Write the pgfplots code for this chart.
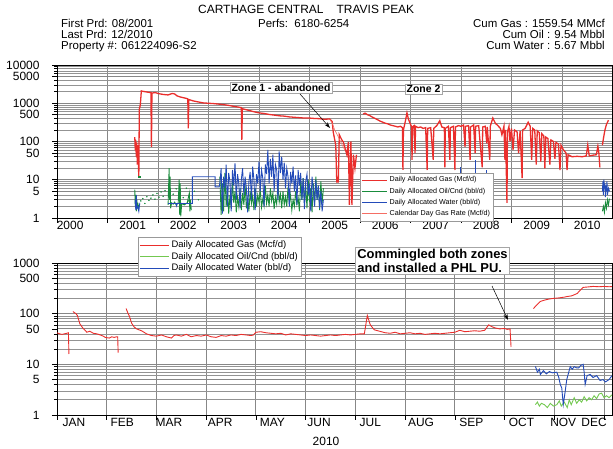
\documentclass[border=0pt]{standalone}
\usepackage{fontspec}
\setmainfont{Liberation Sans}
\usepackage{pgfplots}
\pgfplotsset{compat=1.18}
\usetikzlibrary{arrows.meta}
\definecolor{gasred}{RGB}{234,46,44}
\definecolor{gasredlt}{RGB}{245,110,100}
\definecolor{oilgreen}{RGB}{25,140,60}
\definecolor{oilgreenlt}{RGB}{115,200,80}
\definecolor{wblue}{RGB}{35,75,185}
\definecolor{gridgray}{RGB}{135,135,135}
\begin{document}
\begin{tikzpicture}
\useasboundingbox (0,0) rectangle (613bp,449bp);

% ---------------- header ----------------
\node[anchor=base west, inner sep=0pt, font=\fontsize{12}{13}\selectfont] at (198bp,435.5bp) {CARTHAGE CENTRAL\hspace{1.1em}TRAVIS PEAK};
\node[anchor=base west, inner sep=0pt, font=\fontsize{11.5}{12}\selectfont] at (61bp,421.5bp) {First Prd: 08/2001};
\node[anchor=base west, inner sep=0pt, font=\fontsize{11.5}{12}\selectfont] at (61bp,410.5bp) {Last Prd: 12/2010};
\node[anchor=base west, inner sep=0pt, font=\fontsize{11.5}{12}\selectfont] at (61bp,399.5bp) {Property \#: 061224096-S2};
\node[anchor=base west, inner sep=0pt, font=\fontsize{11.5}{12}\selectfont] at (258bp,421.5bp) {Perfs:\ \ 6180-6254};
\node[anchor=base east, inner sep=0pt, font=\fontsize{11.5}{12}\selectfont] at (605bp,421.5bp) {Cum Gas : 1559.54 MMcf};
\node[anchor=base east, inner sep=0pt, font=\fontsize{11.5}{12}\selectfont] at (605bp,410.5bp) {Cum Oil : 9.54 Mbbl};
\node[anchor=base east, inner sep=0pt, font=\fontsize{11.5}{12}\selectfont] at (605bp,399.5bp) {Cum Water : 5.67 Mbbl};

% ---------------- top panel ----------------
\begin{axis}[at={(57bp,231bp)}, anchor=south west,
  scale only axis, width=555bp, height=153bp, ymode=log,
  axis line style={black, line width=0.9pt},
  xmajorgrids=true, ymajorgrids=true, yminorgrids=true,
  major grid style={gridgray, line width=0.9pt},
  minor grid style={gridgray!90, line width=0.6pt},
  tick align=outside, xtick pos=bottom, ytick pos=left,
  major tick length=5bp, minor tick length=3bp,
  tick style={black, line width=0.6pt},
  ticklabel style={font=\fontsize{12}{13}\selectfont},
  yticklabel style={xshift=-9bp},
  unbounded coords=jump,
  xmin=2000, xmax=2010.99, ymin=1, ymax=10000,
  xtick={2000,...,2010},
  xticklabels={,,,,,,,,,,},
  extra x ticks={2000.26,2001.5,2002.5,2003.5,2004.5,2005.5,2006.5,2007.5,2008.5,2009.5,2010.5},
  extra x tick labels={2000,2001,2002,2003,2004,2005,2006,2007,2008,2009,2010},
  extra x tick style={grid=none, major tick length=0pt},
  ytick={1,5,10,50,100,500,1000,5000,10000},
  yticklabels={1,5,10,50,100,500,1000,5000,10000},
  minor ytick={2,3,4,6,7,8,9,20,30,40,60,70,80,90,200,300,400,600,700,800,900,2000,3000,4000,6000,7000,8000,9000},
  legend image code/.code={\draw[#1] (0bp,0bp) -- (25bp,0bp);},
  legend cell align=left,
  legend style={at={(0.546,0.294)}, anchor=north west, draw=gray!80, fill=white,
    font=\fontsize{7.2}{8}\selectfont, inner sep=1.5pt, row sep=0.6pt},
]
% oil (zone 1)
\addplot[oilgreen, only marks, mark=*, mark size=0.5bp, forget plot] coordinates {
(2001.66,2.8)(2001.70,3.2)(2001.74,2.4)(2001.78,3.6)(2001.82,2.9)(2001.86,3.3)(2001.90,4)(2001.94,3.1)(2001.98,4.4)(2002.02,3.5)(2002.06,4.8)(2002.10,3.7)(2002.14,5.2)(2002.30,4.2)(2002.36,5.8)(2002.50,3.4)(2002.56,6)(2002.60,2.8)(2002.72,5)(2002.80,3)};
\addplot[oilgreen, line width=0.9pt, forget plot] coordinates {
(2001.54,5.5)(2001.55,2)(2001.56,4)(2001.57,1.5)(2001.58,3)(2001.59,1.8)(2001.60,2.5)(2001.61,1.6)(2001.62,2.2)};
\addplot[oilgreen, only marks, mark=square*, mark size=0.9bp, forget plot] coordinates {(2001.62,12)};
\addplot[oilgreen, line width=0.9pt, forget plot] coordinates {
(2002.20,2.2)(2002.22,20)(2002.23,3)(2002.24,12)(2002.25,1.8)(2002.27,2.5)(2002.30,2.3)(2002.33,2.6)(2002.36,2.2)(2002.40,2.5)(2002.42,10)(2002.43,1.2)(2002.44,8)(2002.45,1.1)(2002.47,2.4)(2002.52,2.2)(2002.58,2.5)(2002.62,4.5)(2002.63,1.5)(2002.64,3)(2002.66,1.6)};
\addplot[oilgreen, line width=0.9pt, forget plot] coordinates {
(2003.225,12)(2003.250,1.2)(2003.275,8)(2003.300,1.5)(2003.325,15)(2003.350,2)(2003.375,6)(2003.400,1.3)(2003.425,4)(2003.450,1.8)
(2003.475,9)(2003.500,2.5)(2003.525,5)(2003.550,1.4)(2003.575,3.5)(2003.600,2)(2003.625,6)(2003.650,1.6)(2003.675,4.5)(2003.700,2.2)
(2003.725,7)(2003.750,1.8)(2003.775,3.2)(2003.800,1.5)(2003.825,5)(2003.850,2.4)(2003.875,3.8)(2003.900,1.6)(2003.925,6)(2003.950,2)
(2003.975,4)(2004.000,2.6)(2004.025,5.5)(2004.050,1.9)(2004.075,3.2)(2004.100,2.1)(2004.125,7)(2004.150,2.4)(2004.175,4)(2004.200,2)
(2004.225,6)(2004.250,2.8)(2004.275,4.5)(2004.300,1.7)(2004.325,3.5)(2004.350,2.3)(2004.375,8)(2004.400,2.6)(2004.425,4.2)(2004.450,1.8)
(2004.475,5)(2004.500,2.2)(2004.525,3.6)(2004.550,2)(2004.575,6.5)(2004.600,2.5)(2004.625,4)(2004.650,1.6)(2004.675,3)(2004.700,2)
(2004.725,5)(2004.750,2.3)(2004.775,3.4)(2004.800,1.5)(2004.825,9)(2004.850,3)(2004.875,11)(2004.900,2.5)(2004.925,7)(2004.950,1.8)
(2004.975,10)(2005.000,2.6)(2005.025,6)(2005.050,1.4)(2005.075,8)(2005.100,2.2)(2005.125,12)(2005.150,3)(2005.175,7)(2005.200,1.6)
(2005.225,9)(2005.250,2.4)(2005.275,6)};
\addplot[oilgreen, line width=0.9pt, forget plot] coordinates {
(2010.80,1.5)(2010.82,2)(2010.84,1.4)(2010.86,2.5)(2010.88,1.8)(2010.90,3)(2010.92,2.2)(2010.94,3.2)};
% water
\addplot[wblue, line width=0.9pt, forget plot] coordinates {
(2001.55,3)(2001.56,1.6)(2001.57,4)(2001.58,1.8)(2001.60,2)(2001.62,1.5)(2001.64,2.5)};
\addplot[wblue, line width=0.9pt, forget plot] coordinates {
(2002.20,2.4)(2002.36,2.4)(2002.37,2.1)(2002.38,2.4)(2002.68,2.4)(2002.68,12)(2003.13,12)(2003.13,6.5)(2003.21,6.5)
(2003.225,8)(2003.250,20)(2003.275,1.3)(2003.300,12)(2003.325,6)(2003.350,25)(2003.375,2)(2003.400,15)(2003.425,9)(2003.450,1.5)
(2003.475,18)(2003.500,7)(2003.525,27)(2003.550,3)(2003.575,14)(2003.600,8)(2003.625,1.8)(2003.650,10)(2003.675,20)(2003.700,4)
(2003.725,12)(2003.750,6)(2003.775,1.4)(2003.800,9)(2003.825,16)(2003.850,3)(2003.875,22)(2003.900,10)(2003.925,1.6)(2003.950,14)
(2003.975,8)(2004.000,30)(2004.025,5)(2004.050,18)(2004.075,11)(2004.100,2)(2004.125,25)(2004.150,14)(2004.175,60)(2004.200,8)
(2004.225,35)(2004.250,12)(2004.275,45)(2004.300,5)(2004.325,25)(2004.350,18)(2004.375,3)(2004.400,55)(2004.425,15)(2004.450,40)
(2004.475,10)(2004.500,28)(2004.525,6)(2004.550,20)(2004.575,12)(2004.600,2)(2004.625,16)(2004.650,8)(2004.675,22)(2004.700,5)
(2004.725,13)(2004.750,2.2)(2004.775,18)(2004.800,7)(2004.825,15)(2004.850,3)(2004.875,11)(2004.900,1.7)(2004.925,9)(2004.950,14)
(2004.975,4)(2005.000,8)(2005.025,1.5)(2005.050,12)(2005.075,6)(2005.100,2)(2005.125,10)(2005.150,3)(2005.175,7)(2005.200,1.8)
(2005.225,5)(2005.250,1.5)(2005.275,3)};
\addplot[wblue, line width=1pt, forget plot] coordinates {
(2007.98,0.8)(2007.98,21)(2007.98,nan)(2008.03,0.8)(2008.03,15)(2008.03,nan)(2008.28,0.8)(2008.28,33)(2008.28,nan)(2008.50,0.8)(2008.50,18)};
\addplot[wblue, line width=0.9pt, forget plot] coordinates {
(2010.80,5)(2010.81,9)(2010.82,4)(2010.83,10)(2010.84,6)(2010.85,8)(2010.86,3.5)(2010.87,7)(2010.88,5)(2010.89,9)(2010.90,4)(2010.92,6)(2010.94,5)};
% gas zone 1
\addplot[gasred, line width=1.3pt, forget plot] coordinates {
(2001.54,130)(2001.55,60)(2001.56,110)(2001.57,40)(2001.58,95)(2001.59,25)(2001.60,80)(2001.61,30)(2001.62,12)(2001.63,700)(2001.65,900)(2001.67,2100)
(2001.70,2050)(2001.75,2000)(2001.80,1950)(2001.86,1900)(2001.87,72)(2001.88,1850)(2001.95,1900)(2002.00,1800)(2002.10,1700)(2002.20,1650)
(2002.28,1800)(2002.33,1750)(2002.38,1550)(2002.45,1450)(2002.55,1350)(2002.59,1300)(2002.60,220)(2002.61,1250)(2002.70,1150)(2002.80,1080)
(2002.90,1020)(2003.00,1000)(2003.10,980)(2003.20,950)(2003.30,920)(2003.40,880)(2003.50,830)(2003.60,790)(2003.65,770)(2003.66,110)
(2003.67,720)(2003.80,650)(2003.90,600)(2004.00,560)(2004.10,540)(2004.20,510)(2004.30,490)(2004.40,470)(2004.50,460)(2004.60,440)
(2004.70,430)(2004.80,420)(2004.90,410)(2005.00,410)(2005.10,400)(2005.20,395)(2005.30,380)(2005.40,390)(2005.45,330)
(2005.47,177)(2005.52,80)(2005.54,8.8)(2005.57,8.8)(2005.59,150)(2005.64,110)(2005.67,97)(2005.74,45)(2005.77,97)(2005.79,2.2)
(2005.82,100)(2005.84,2.2)(2005.87,45)(2005.90,20)(2005.93,45)};
% gas zone 2
\addplot[gasred, line width=1.3pt, forget plot] coordinates {
(2006.06,520)(2006.10,550)(2006.15,500)(2006.20,470)(2006.25,430)(2006.30,400)(2006.35,370)(2006.40,340)(2006.45,320)(2006.50,300)
(2006.55,290)(2006.60,270)(2006.65,260)(2006.70,250)(2006.75,240)(2006.80,250)(2006.84,230)(2006.85,18)(2006.86,200)(2006.90,350)
(2006.93,560)(2006.96,380)(2007.00,280)(2007.02,250)(2007.03,33)(2007.04,240)(2007.07,260)(2007.09,50)(2007.10,250)(2007.15,230)
(2007.20,240)(2007.25,220)(2007.30,230)(2007.33,18)(2007.34,220)(2007.40,230)(2007.45,33)(2007.46,220)(2007.52,260)(2007.58,350)
(2007.62,240)(2007.67,230)(2007.68,21)(2007.69,220)(2007.75,250)(2007.78,33)(2007.79,230)(2007.85,250)(2007.88,18)(2007.89,240)
(2007.95,260)(2008.00,250)(2008.05,270)(2008.08,72)(2008.09,250)(2008.15,260)(2008.18,33)(2008.19,240)(2008.25,270)(2008.28,50)
(2008.29,250)(2008.35,260)(2008.42,21)(2008.43,240)(2008.48,250)(2008.51,90)(2008.52,240)(2008.57,33)(2008.58,250)(2008.63,410)
(2008.68,300)(2008.73,260)(2008.78,220)(2008.81,150)(2008.85,250)(2008.87,33)(2008.88,200)(2008.91,2.5)(2008.92,180)(2008.95,250)
(2008.97,100)(2009.00,220)(2009.03,60)(2009.06,200)(2009.11,180)(2009.14,50)(2009.17,190)(2009.21,11)(2009.22,200)(2009.27,220)
(2009.33,320)(2009.37,250)(2009.40,33)(2009.42,220)(2009.46,200)(2009.49,25)(2009.51,190)(2009.55,170)(2009.58,30)(2009.60,160)
(2009.64,140)(2009.66,20)(2009.68,130)(2009.72,120)(2009.76,25)(2009.78,110)(2009.83,100)(2009.86,35)(2009.88,95)(2009.93,85)
(2009.96,18)(2009.98,80)(2010.03,60)(2010.08,50)(2010.10,18)(2010.12,45)(2010.20,40)(2010.30,41)(2010.40,40)(2010.48,42)
(2010.51,80)(2010.54,42)(2010.62,44)(2010.68,45)(2010.71,75)(2010.73,50)(2010.75,21)};
\addplot[gasred, line width=1.3pt, forget plot] coordinates {
(2010.80,80)(2010.82,120)(2010.85,200)(2010.88,280)(2010.92,360)};
% calendar day gas rate
\addplot[gasredlt, line width=0.6pt, forget plot] coordinates {
(2005.40,390)(2005.45,300)(2005.50,200)(2005.55,150)(2005.60,110)(2005.65,80)(2005.70,60)};
\addlegendimage{draw=gasred, line width=0.9pt}
\addlegendentry{Daily Allocated Gas (Mcf/d)}
\addlegendimage{draw=oilgreen, line width=0.9pt}
\addlegendentry{Daily Allocated Oil/Cnd (bbl/d)}
\addlegendimage{draw=wblue, line width=0.9pt}
\addlegendentry{Daily Allocated Water (bbl/d)}
\addlegendimage{draw=gasredlt, line width=0.9pt}
\addlegendentry{Calendar Day Gas Rate (Mcf/d)}
\end{axis}

% ---------------- bottom panel ----------------
\begin{axis}[at={(57bp,34bp)}, anchor=south west,
  scale only axis, width=555bp, height=152bp, ymode=log,
  axis line style={black, line width=0.9pt},
  xmajorgrids=true, ymajorgrids=true, yminorgrids=true,
  major grid style={gridgray, line width=0.9pt},
  minor grid style={gridgray!90, line width=0.6pt},
  tick align=outside, xtick pos=bottom, ytick pos=left,
  major tick length=5bp, minor tick length=3bp,
  tick style={black, line width=0.6pt},
  ticklabel style={font=\fontsize{12}{13}\selectfont},
  yticklabel style={xshift=-9bp},
  xmin=0, xmax=11.16, ymin=1, ymax=1000,
  xtick={0,...,11},
  xticklabels={,,,,,,,,,,,},
  extra x ticks={0.34,1.31,2.25,3.28,4.33,5.27,6.30,7.32,8.33,9.34,10.18,10.80},
  extra x tick labels={JAN,FEB,MAR,APR,MAY,JUN,JUL,AUG,SEP,OCT,NOV,DEC},
  extra x tick style={grid=none, major tick length=0pt},
  ytick={1,5,10,50,100,500,1000},
  yticklabels={1,5,10,50,100,500,1000},
  minor ytick={2,3,4,6,7,8,9,20,30,40,60,70,80,90,200,300,400,600,700,800,900},
  legend image code/.code={\draw[#1] (0bp,0bp) -- (29bp,0bp);},
  legend cell align=left,
  legend style={at={(0.146,1.17)}, anchor=north west, draw=gray!80, fill=white,
    font=\fontsize{9.5}{10}\selectfont, inner sep=1.5pt, row sep=-0.8pt},
]
\addplot[oilgreenlt, line width=0.9pt, forget plot] coordinates {
(9.62,1.6)(9.66,1.8)(9.70,1.5)(9.74,1.7)(9.80,1.6)(9.86,1.4)(9.92,1.7)(9.98,1.5)(10.05,1.6)(10.10,1.9)(10.14,1.5)(10.20,1.8)
(10.26,1.4)(10.30,2.0)(10.34,1.6)(10.40,2.2)(10.45,1.7)(10.50,2.0)(10.55,1.8)(10.60,2.3)(10.65,1.9)(10.70,2.2)(10.75,2.0)
(10.80,2.4)(10.85,2.1)(10.90,2.6)(10.95,2.7)(11.00,2.2)(11.05,2.4)(11.10,2.2)(11.16,2.5)};
\addplot[wblue, line width=0.9pt, forget plot] coordinates {
(9.62,9.1)(9.66,7)(9.70,8)(9.72,6.3)(9.78,7.5)(9.84,6.5)(9.90,7.2)(9.96,6.8)(10.05,7)(10.09,5.5)(10.12,4)(10.15,3.4)(10.18,1.6)
(10.22,3)(10.25,5)(10.29,7)(10.32,9)(10.36,8)(10.40,9)(10.45,8.5)(10.49,8.5)(10.53,9.5)(10.58,10)(10.60,7)(10.62,4)(10.66,6)
(10.72,6.3)(10.78,5.5)(10.85,6)(10.92,4.8)(10.98,5)(11.03,4.5)(11.10,5)(11.16,6)};
\addplot[gasred, line width=0.9pt, forget plot] coordinates {
(0,42)(0.05,40)(0.10,39)(0.15,40)(0.20,41)(0.23,42)(0.24,16)};
\addplot[gasred, line width=0.9pt, forget plot] coordinates {
(0.32,110)(0.38,100)(0.41,92)(0.46,63)(0.52,52)(0.60,43)(0.66,45)(0.73,41)(0.80,40)(0.87,38)(0.93,36)(0.97,34)(1.05,33)(1.10,35)
(1.15,34)(1.20,35)(1.22,35)(1.23,17)};
\addplot[gasred, line width=0.9pt, forget plot] coordinates {
(1.39,126)(1.43,100)(1.46,87)(1.50,65)(1.55,55)(1.60,50)(1.70,46)(1.80,40)(1.90,37)(2.00,36)(2.10,38)(2.20,35)(2.30,33)(2.35,37)
(2.40,38)(2.50,36)(2.60,39)(2.70,35)(2.80,37)(2.90,36)(3.00,38)(3.10,35)(3.20,34)(3.30,37)(3.40,36)(3.50,38)(3.60,37)(3.70,39)
(3.80,38)(3.90,37)(3.95,38)(4.00,43)(4.10,44)(4.20,42)(4.30,41)(4.40,40)(4.50,41)(4.60,38)(4.70,40)(4.80,39)(4.90,38)(5.00,37)
(5.10,38)(5.20,37)(5.30,36)(5.40,37)(5.50,38)(5.60,37)(5.70,38)(5.80,39)(5.90,38)(6.00,39)(6.10,40)(6.18,40)(6.24,92)(6.30,60)
(6.38,48)(6.45,46)(6.60,42)(6.70,41)(6.80,43)(6.90,40)(7.00,41)(7.10,42)(7.20,40)(7.30,41)(7.40,39)(7.50,40)(7.60,41)(7.70,40)
(7.80,41)(7.90,42)(8.00,43)(8.10,47)(8.20,44)(8.30,45)(8.40,46)(8.50,45)(8.60,47)(8.68,60)(8.75,55)(8.82,52)(8.90,50)(9.00,51)
(9.05,49)(9.11,50)(9.13,22)};
\addplot[gasred, line width=0.9pt, forget plot] coordinates {
(9.58,126)(9.65,150)(9.72,174)(9.80,185)(9.90,195)(9.98,200)(10.10,205)(10.20,212)(10.26,218)(10.35,225)(10.46,250)(10.52,290)
(10.58,330)(10.65,335)(10.78,345)(10.90,340)(11.00,345)(11.10,340)(11.16,342)};
\addlegendimage{draw=gasred, line width=0.9pt}
\addlegendentry{Daily Allocated Gas (Mcf/d)}
\addlegendimage{draw=oilgreenlt, line width=0.9pt}
\addlegendentry{Daily Allocated Oil/Cnd (bbl/d)}
\addlegendimage{draw=wblue, line width=0.9pt}
\addlegendentry{Daily Allocated Water (bbl/d)}
\end{axis}

% ---------------- annotations ----------------
\node[draw=gray!70, fill=white, font=\bfseries\fontsize{10.5}{12}\selectfont, inner sep=1.5pt] at (281bp,361bp) {Zone 1 - abandoned};
\draw[-{Stealth[length=6bp,width=4bp]}, line width=0.5pt] (300bp,355bp) -- (330bp,321bp);
\node[draw=gray!70, fill=white, font=\bfseries\fontsize{10.5}{12}\selectfont, inner sep=1.5pt] at (423.5bp,360bp) {Zone 2};
\node[draw=gray!70, fill=white, font=\bfseries\fontsize{13}{13.5}\selectfont, align=left, inner sep=2pt] at (432.5bp,188bp) {Commingled both zones\\and installed a PHL PU.};
\draw[-{Stealth[length=6bp,width=4bp]}, line width=0.5pt] (492bp,163bp) -- (508bp,129bp);
\node[font=\fontsize{12}{13}\selectfont] at (326bp,8bp) {2010};
\end{tikzpicture}
\end{document}
